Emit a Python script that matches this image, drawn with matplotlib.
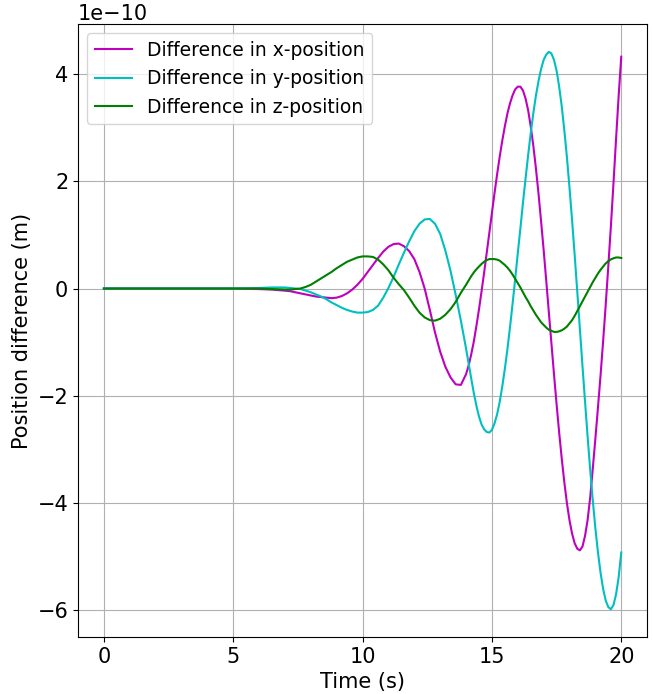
import numpy as np
import matplotlib
matplotlib.use("Agg")
import matplotlib.pyplot as plt

# time grid (s)
t = np.concatenate([[0, 1, 2, 3, 4, 5, 6, 6.5],
                    np.arange(7.0, 13.9, 0.2),
                    np.arange(14.0, 20.05, 0.1)])

# position differences, in units of 1e-10 m
dx = [0, 0, 0, 0, 0, 0, -0.01, -0.02,
      -0.04, -0.05, -0.07, -0.09, -0.11, -0.13, -0.15, -0.16, -0.17, -0.18,
      -0.17, -0.14, -0.09, -0.02, 0.07, 0.18, 0.31, 0.44, 0.57, 0.69,
      0.78, 0.83, 0.84, 0.79, 0.70, 0.55, 0.31, 0.00, -0.40, -0.82,
      -1.18, -1.46, -1.66, -1.79, -1.80,
      -1.60, -1.44, -1.23, -0.99, -0.70, -0.39, -0.05, 0.30, 0.67, 1.04,
      1.41, 1.78, 2.13, 2.46, 2.76, 3.03, 3.27, 3.46, 3.61, 3.72,
      3.77, 3.77, 3.70, 3.55, 3.33, 3.03, 2.67, 2.25, 1.78, 1.26,
      0.72, 0.15, -0.44, -1.02, -1.60, -2.16, -2.69, -3.18, -3.62, -4.01,
      -4.33, -4.58, -4.76, -4.86, -4.89, -4.82, -4.62, -4.32, -3.90, -3.36,
      -2.80, -2.22, -1.62, -0.98, -0.30, 0.42, 1.17, 1.97, 2.80, 3.60,
      4.33]

dy = [0, 0, 0, 0, 0, 0, 0.01, 0.02,
      0.02, 0.01, 0.00, -0.01, -0.04, -0.07, -0.11, -0.15, -0.20, -0.26,
      -0.31, -0.36, -0.40, -0.43, -0.45, -0.45, -0.44, -0.40, -0.32, -0.17,
      0.01, 0.22, 0.45, 0.67, 0.88, 1.07, 1.21, 1.29, 1.30, 1.21,
      1.02, 0.71, 0.33, -0.12, -0.60,
      -1.12, -1.40, -1.68, -1.95, -2.19, -2.39, -2.54, -2.63, -2.68, -2.69,
      -2.64, -2.52, -2.35, -2.12, -1.83, -1.50, -1.13, -0.72, -0.28, 0.18,
      0.66, 1.12, 1.60, 2.05, 2.49, 2.90, 3.27, 3.60, 3.87, 4.10,
      4.27, 4.37, 4.42, 4.39, 4.27, 4.07, 3.77, 3.40, 2.95, 2.45,
      1.88, 1.27, 0.62, -0.06, -0.75, -1.44, -2.11, -2.77, -3.39, -3.96,
      -4.48, -4.93, -5.31, -5.61, -5.83, -5.95, -5.99, -5.91, -5.71, -5.39,
      -4.93]

dz = [0, 0, 0, 0, 0, 0, 0, -0.01,
      -0.02, -0.02, -0.01, 0.00, 0.03, 0.07, 0.13, 0.19, 0.25, 0.31,
      0.38, 0.44, 0.50, 0.54, 0.58, 0.60, 0.60, 0.59, 0.54, 0.45,
      0.34, 0.20, 0.08, -0.03, -0.17, -0.32, -0.45, -0.54, -0.59, -0.60,
      -0.565, -0.49, -0.385, -0.25, -0.08,
      0.07, 0.15, 0.23, 0.30, 0.36, 0.41, 0.46, 0.50, 0.53, 0.55,
      0.55, 0.55, 0.54, 0.52, 0.48, 0.44, 0.39, 0.33, 0.26, 0.18,
      0.10, 0.02, -0.07, -0.16, -0.24, -0.33, -0.41, -0.49, -0.56, -0.63,
      -0.68, -0.73, -0.77, -0.79, -0.81, -0.81, -0.80, -0.78, -0.75, -0.71,
      -0.65, -0.59, -0.51, -0.42, -0.33, -0.24, -0.15, -0.06, 0.03, 0.12,
      0.20, 0.28, 0.35, 0.41, 0.47, 0.51, 0.545, 0.565, 0.58, 0.58,
      0.57]

labels = ['Difference in x-position', 'Difference in y-position', 'Difference in z-position']
colors = ['m', 'c', 'g']

fig = plt.figure(figsize=(6.53, 6.94), dpi=100)
ax = fig.add_axes([0.1195, 0.082, 0.8715, 0.8834])

for d, lab, col in zip([dx, dy, dz], labels, colors):
    ax.plot(t, np.array(d) * 1e-10, color=col, label=lab, linewidth=1.5)

ax.set_xlabel('Time (s)', fontsize=15)
ax.set_ylabel('Position difference (m)', fontsize=15)
ax.tick_params(labelsize=15)
ax.yaxis.get_offset_text().set_fontsize(15)
ax.set_xticks([0, 5, 10, 15, 20])
ax.grid(True)
ax.legend(loc='upper left', fontsize=13.5)

plt.savefig('out.png', dpi=100)
